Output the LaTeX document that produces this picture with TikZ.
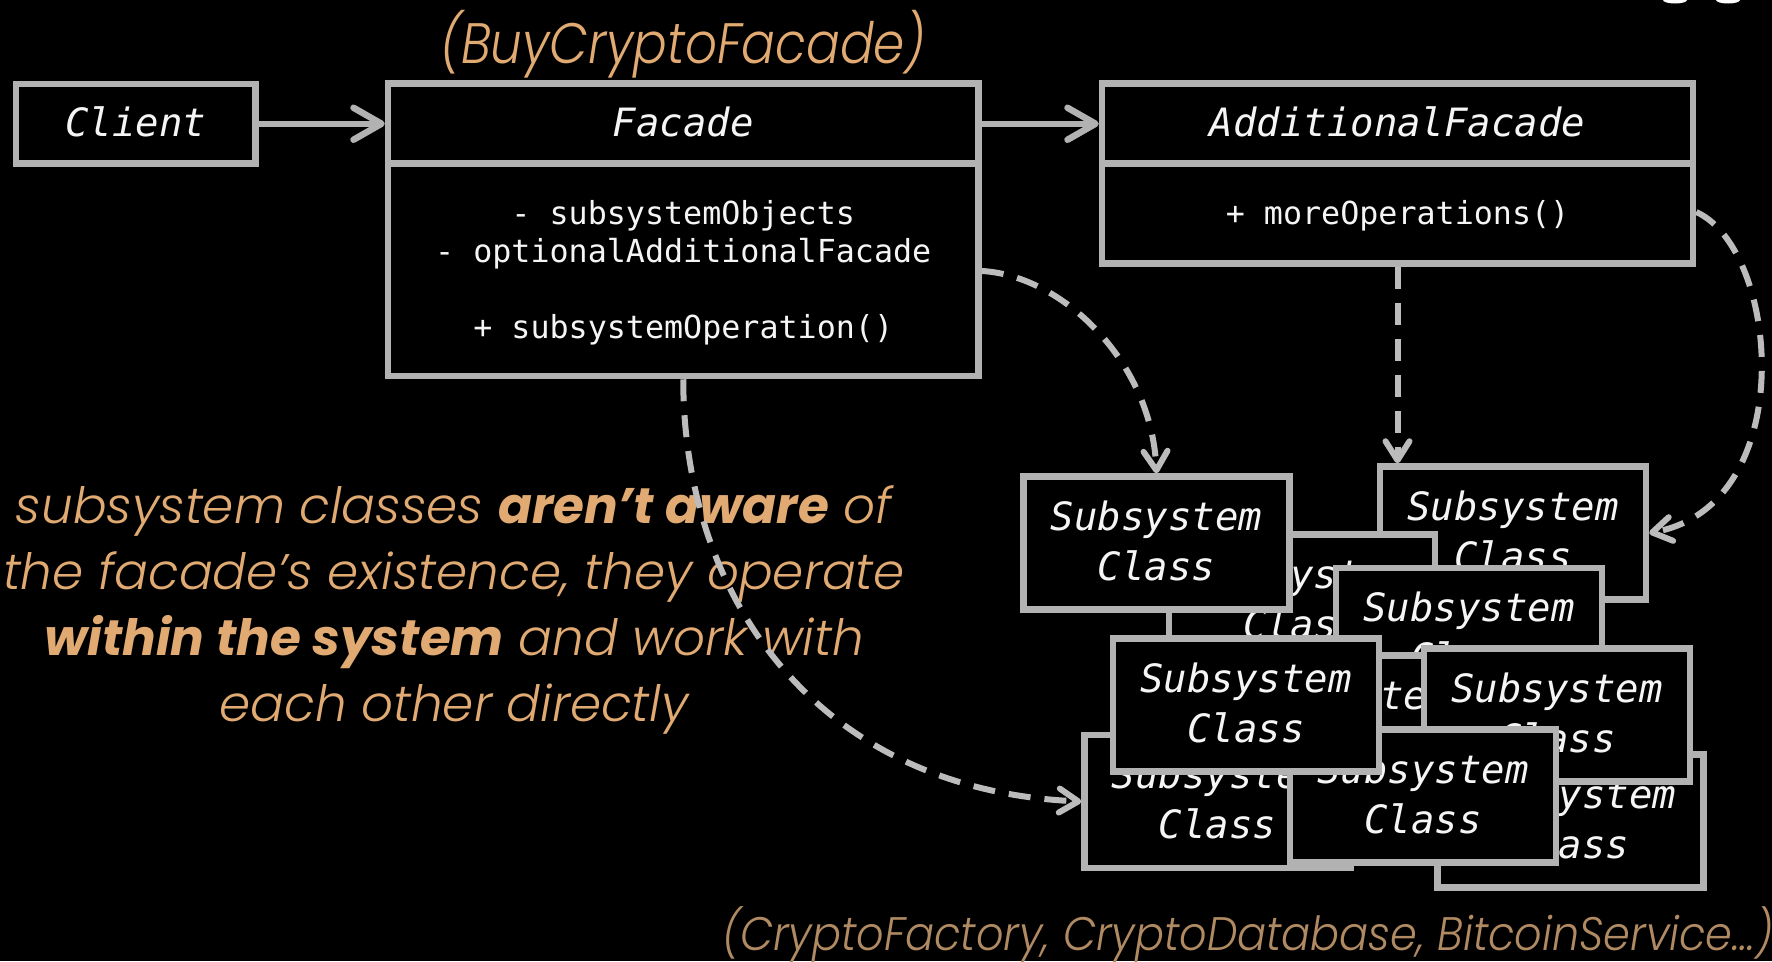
\documentclass[tikz,border=0pt]{standalone}
\usepackage{fontspec}
\usetikzlibrary{arrows.meta,calc}
\newfontfamily\monof{DejaVu Sans Mono}
\newfontfamily\rawf{Poppins Light}[ItalicFont={Poppins Light Italic},BoldItalicFont={Poppins Bold Italic}]
\definecolor{edge}{RGB}{178,178,178}
\definecolor{dashc}{RGB}{188,188,188}
\definecolor{orng}{RGB}{224,170,114}
\definecolor{orngd}{RGB}{176,138,98}
\definecolor{txtw}{RGB}{245,245,245}
\tikzset{
  umlbox/.style={draw=edge, line width=6.5pt, fill=black, inner sep=0pt, rectangle},
  ssbox/.style={umlbox, minimum width=266pt, minimum height=133pt},
  divider/.style={draw=edge, line width=6.5pt},
  titletext/.style={text=txtw, font=\monof\itshape\fontsize{39}{47}\selectfont, inner sep=0pt, anchor=base},
  sstext/.style={titletext},
  bodytext/.style={text=txtw, font=\monof\fontsize{31.7}{38}\selectfont, inner sep=0pt, anchor=base},
  solidarr/.style={draw=edge, line width=6.5pt, -{Straight Barb[length=28pt,width=32pt,round]}},
  dasharr/.style={draw=dashc, line width=6pt, dash pattern=on 22pt off 14pt, -{Straight Barb[length=19pt,width=24pt,round]}},
  note/.style={text=orng, font=\rawf\itshape\fontsize{50}{66}\selectfont, inner sep=0pt, anchor=base},
}
\newcommand\ssys[3]{%
  \node[ssbox] (#1) at (#2,#3) {};
  \node[sstext] (#1a) at ([yshift=13pt]#1.center) {Subsystem};
  \node[sstext] (#1b) at ([yshift=-37pt]#1.center) {Class};}
\begin{document}
\begin{tikzpicture}[x=1pt,y=-1pt]
\useasboundingbox (0,0) rectangle (1772,961);
\fill[black] (0,0) rectangle (1772,961);
% remnants at the top edge
\fill[white] (1675pt,0pt) ellipse [x radius=12pt, y radius=3.5pt];
\fill[white] (1728pt,0pt) ellipse [x radius=12pt, y radius=3.5pt];

% titles
\node[note, font=\rawf\itshape\fontsize{57}{66}\selectfont] (bcf) at (683,63) {\scalebox{0.877}[1]{(BuyCryptoFacade)}};

% Client
\node[umlbox, minimum width=239.5pt, minimum height=79.5pt] (client) at (135.75,123.75) {};
\node[titletext] (clientT) at (135.75,136.5) {Client};

% Facade
\node[umlbox, minimum width=590.5pt, minimum height=292.5pt] (facade) at (683.25,229.75) {};
\draw[divider] (388,163.5) -- (978.5,163.5);
\node[titletext] (facadeT) at (683.25,136.5) {Facade};
\node[bodytext] (fb1) at (683.25,224) {- subsystemObjects};
\node[bodytext] (fb2) at (683.25,262) {- optionalAdditionalFacade};
\node[bodytext] (fb3) at (683.25,338) {+ subsystemOperation()};

% Additional facade
\node[umlbox, minimum width=591pt, minimum height=180pt] (addf) at (1397.5,173.5) {};
\draw[divider] (1102,163.5) -- (1693,163.5);
\node[titletext] (addfT) at (1397.5,136.5) {AdditionalFacade};
\node[bodytext] (ab1) at (1397.5,224) {+ moreOperations()};

% solid arrows
\draw[solidarr] (client.east) -- (client.east -| facade.west);
\draw[solidarr] (client.east -| facade.east) -- (client.east -| addf.west);

% subsystem classes (back to front)
\ssys{sB}{1513}{533}
\ssys{sC}{1302}{601}
\ssys{sD}{1469}{634.5}
\ssys{sE}{1345}{722}
\ssys{sJ}{1570.5}{821}
\ssys{sG}{1557}{715}
\ssys{sI}{1217.5}{801.5}
\ssys{sH}{1423}{796}
\ssys{sF}{1246}{705}
\ssys{sA}{1156.5}{543}

% note text
\node[note] (n1) at (454,523) {subsystem classes \textbf{aren’t aware} of};
\node[note] (n2) at (454,589) {the facade’s existence, they operate};
\node[note] (n3) at (454,655) {\textbf{within the system} and work with};
\node[note] (n4) at (454,721) {each other directly};

% dashed arrows
\draw[dasharr] ([yshift=-41.25pt]facade.east) .. controls +(79,4) and +(-5,-113) .. (sA.north);
\draw[dasharr] (addf.south) -- (addf.south |- sB.north);
\draw[dasharr] ([yshift=-38.5pt]addf.east) .. controls +(84,38) and +(151,-28) .. (sB.east);
\draw[dasharr] (facade.south) .. controls +(0,221) and +(-262,-11.5) .. (sI.west);

% bottom label
\node[note, text=orngd, anchor=base west, font=\rawf\itshape\fontsize{47}{56}\selectfont] (bottom) at (722,950) {\scalebox{0.915}[1]{(CryptoFactory, CryptoDatabase, BitcoinService…)}};
\end{tikzpicture}
\end{document}
